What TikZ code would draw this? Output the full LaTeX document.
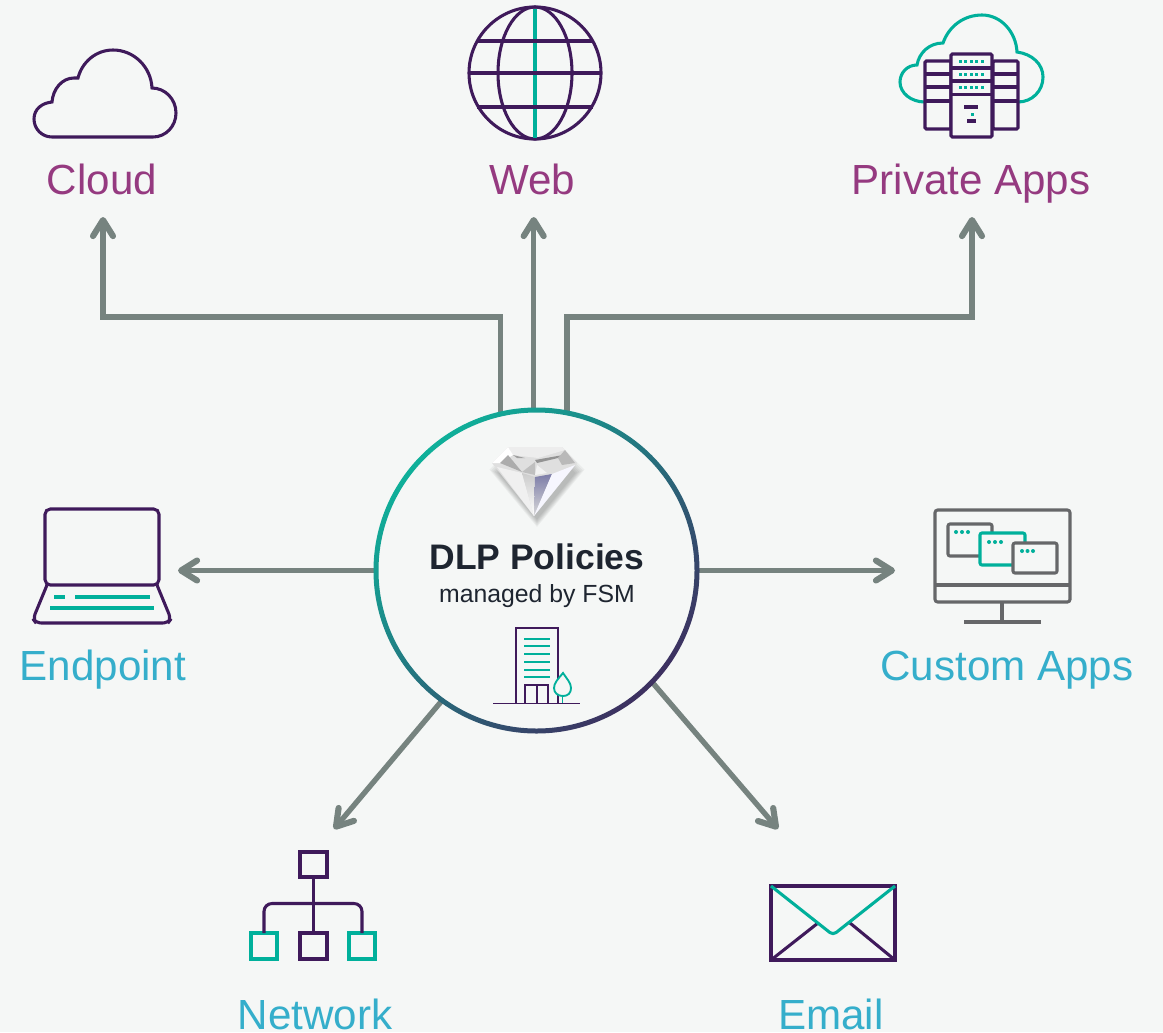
\documentclass[tikz,border=0pt]{standalone}
\usepackage{fontspec}
\setmainfont{Liberation Sans}
\usetikzlibrary{arrows.meta}
\definecolor{pagebg}{HTML}{F5F7F6}
\definecolor{iconpurple}{HTML}{3F1A5B}
\definecolor{iconteal}{HTML}{00B09B}
\definecolor{icongrey}{HTML}{666769}
\definecolor{flowgrey}{HTML}{76837F}
\definecolor{labelpurple}{HTML}{953A80}
\definecolor{labelblue}{HTML}{35AECB}
\definecolor{hubtext}{HTML}{1E2530}
\definecolor{ringstart}{HTML}{0FB09A}
\definecolor{ringmid}{HTML}{1B8F88}
\definecolor{ringend}{HTML}{3D3060}
\tikzset{
  flow/.style={draw=flowgrey, line width=4pt, -{Straight Barb[length=12pt,width=15pt,line width=4.6pt,round]}},
  purpleline/.style={draw=iconpurple, line width=2.3pt},
  tealline/.style={draw=iconteal, line width=2.3pt},
  greyline/.style={draw=icongrey, line width=2.3pt},
  thinpurple/.style={draw=iconpurple, line width=1.4pt},
  thinteal/.style={draw=iconteal, line width=1.4pt},
  toplabel/.style={anchor=base, text=labelpurple, font=\fontsize{31.6pt}{36pt}\selectfont, inner sep=0pt},
  lowlabel/.style={anchor=base, text=labelblue, font=\fontsize{31.6pt}{36pt}\selectfont, inner sep=0pt},
}
\begin{document}
\begin{tikzpicture}[x=0.75pt,y=-0.75pt]
  \fill[pagebg] (0,0) rectangle (1163,1032);
  \useasboundingbox (0,0) rectangle (1163,1032);

  \node[circle, inner sep=0pt, outer sep=0pt, minimum size=240.75pt] (hub) at (536.5,570.5) {};
  \coordinate (cloudbend) at (103,317);
  \coordinate (cloudtip) at (103,217);
  \coordinate (webtip) at (533,217);
  \coordinate (appsbend) at (972,317);
  \coordinate (appstip) at (972,217);
  \coordinate (endpointtip) at (178,570.5);
  \coordinate (customtip) at (895,570.5);
  \coordinate (networktip) at (334,829);
  \coordinate (emailtip) at (778,829);

  \draw[flow] (hub.103.5) |- (cloudbend) -- (cloudtip);
  \draw[flow] (hub.91.25) -- (hub.91.25 |- webtip);
  \draw[flow] (hub.79.7) |- (appsbend) -- (appstip);
  \draw[flow] (hub.180) -- (endpointtip);
  \draw[flow] (hub.0) -- (customtip);
  \draw[flow] (hub.234.2) -- (networktip);
  \draw[flow] (hub.-44) -- (emailtip);

  % ring
  \path[even odd rule, left color=ringstart, middle color=ringmid, right color=ringend, shading angle=45]
    (hub.center) circle (163) circle (158);

  \node[anchor=base, inner sep=0pt, text=hubtext, font=\fontsize{26.6pt}{30pt}\selectfont\bfseries] (hubtitle) at (537,569) {DLP Policies};
  \node[anchor=base, inner sep=0pt, text=hubtext, font=\fontsize{18.6pt}{22pt}\selectfont] (hubsub) at (537,602) {managed by FSM};

  \node[toplabel] (cloudlabel) at (102,194) {Cloud};
  \node[toplabel] (weblabel) at (532,194) {Web};
  \node[toplabel] (appslabel) at (971,194) {Private Apps};
  \node[lowlabel] (endpointlabel) at (103,680) {Endpoint};
  \node[lowlabel] (customlabel) at (1007,680) {Custom Apps};
  \node[lowlabel] (networklabel) at (315,1029) {Network};
  \node[lowlabel] (emaillabel) at (831,1029) {Email};

  % diamond
  \foreach \s in {0.88,0.92,0.96,1.00,1.04,1.08}
    \fill[black, opacity=0.045, shift={(537,488)}, scale=\s]
      (-28,-33) -- (28,-33) -- (44,-17) -- (0,36) -- (-44,-17) -- cycle;
  \fill[gray!25!white] (508,447) -- (562,447) -- (577,463) -- (534,516) -- (492,463) -- cycle;
  \fill[gray!14!white] (508,447) -- (562,447) -- (565,450) -- (538,458) -- (513,455) -- cycle;
  \fill[white] (492,463) -- (508,447) -- (513,455) -- (500,463) -- cycle;
  \fill[gray!65!white] (500,463) -- (508,455) -- (522,472) -- cycle;
  \fill[gray!75!white] (513,455) -- (525,458) -- (517,458) -- cycle;
  \fill[gray!85!white] (535,460) -- (563,455) -- (558,458) -- (537,463) -- cycle;
  \fill[gray!55!white] (558,458) -- (565,450) -- (575,463) -- (562,465) -- cycle;
  \fill[gray!50!white] (522,472) -- (535,462) -- (535,475) -- cycle;
  \fill[gray!10!white] (537,465) -- (547,473) -- (535,475) -- cycle;
  \fill[gray!12!white] (497,467) -- (522,473) -- (534,516) -- cycle;
  \path[top color=gray!40!white, bottom color=white] (522,473) -- (535,477) -- (534,516) -- cycle;
  \path[top color=gray!80!blue!85!white, bottom color=gray!30!white] (535,477) -- (552,474) -- (534,516) -- cycle;
  \fill[gray!20!blue!4!white] (552,474) -- (575,465) -- (534,516) -- cycle;

  % building
  \draw[thinpurple] (516,703) -- (516,628) -- (558,628) -- (558,703);
  \draw[thinpurple] (525,703) -- (525,685) -- (548,685) -- (548,703) (537,685) -- (537,703);
  \draw[thinpurple] (493,703.5) -- (580,703.5);
  \foreach \y in {639,646,654,662,670,677}
    \draw[thinteal] (524,\y) -- (550,\y);
  \draw[thinteal, fill=pagebg] (563,673) .. controls (558,679) and (554,683) .. (554,688) .. controls (554,693) and (558,696) .. (563,696) .. controls (568,696) and (571,693) .. (571,688) .. controls (571,683) and (567,679) .. (563,673) -- cycle;
  \draw[thinteal] (562.5,696) -- (562.5,703);

  % cloud
  \draw[purpleline] (52,137) -- (153,137) .. controls (166,137) and (176,126) .. (176,113) .. controls (176,99) and (165,88) .. (152,88) .. controls (151,67) and (134,50) .. (113,50) .. controls (96,50) and (82,62) .. (78,78) -- (74,78) .. controls (62,78) and (53,89) .. (52,102) .. controls (42,103) and (34,109) .. (34,119) .. controls (34,129) and (42,137) .. (52,137) -- cycle;

  % globe
  \draw[purpleline] (535,73) circle (66);
  \draw[purpleline] (535,73) ellipse (37 and 66);
  \draw[tealline] (535,9) -- (535,138);
  \draw[purpleline] (469,73) -- (601,73) (477,41) -- (593,41) (477,107) -- (593,107);

  % private apps
  \draw[tealline] (925,102) .. controls (911,102) and (900,93) .. (900,82) .. controls (900,73) and (907,65) .. (917,65) .. controls (919,53) and (929,43) .. (943,43) .. controls (949,26) and (964,15) .. (982,15) .. controls (1001,15) and (1016,32) .. (1017,52) .. controls (1032,54) and (1043,64) .. (1043,77) .. controls (1043,91) and (1032,102) .. (1018,102);
  \draw[purpleline, rounded corners=1pt] (925,61) rectangle (951,129);
  \draw[purpleline, rounded corners=1pt] (993,61) rectangle (1018,129);
  \foreach \y in {74,87,101} {
    \draw[purpleline] (925,\y) -- (951,\y);
    \draw[purpleline] (993,\y) -- (1018,\y);
  }
  \draw[purpleline, rounded corners=1pt, fill=pagebg] (951,54) rectangle (992,137);
  \foreach \y in {68,81,94.5}
    \draw[purpleline] (951,\y) -- (992,\y);
  \foreach \y in {61,74.5,87.5}
    \foreach \x in {960,965.5,971,976.5,982}
      \fill[iconteal] (\x-1.5,\y-1.5) rectangle (\x+1.5,\y+1.5);
  \draw[purpleline] (964,107) -- (978,107) (967,121) -- (976,121);
  \fill[iconteal] (970.5,112.5) rectangle (973.5,115.5);

  % laptop
  \draw[purpleline, rounded corners=4pt] (45,585) rectangle (159,509);
  \draw[purpleline, rounded corners=4pt] (47,585) -- (33,619) -- (36,623) -- (168,623) -- (171,619) -- (157,585);
  \draw[tealline] (54,597) -- (65,597) (75,597) -- (150,597) (50,608) -- (154,608);

  % monitor
  \draw[greyline, rounded corners=2pt] (935,510) rectangle (1070,602);
  \draw[greyline] (935,585) -- (1070,585) (1002,602) -- (1002,622) (964,622) -- (1041,622);
  \draw[greyline, rounded corners=1.5pt] (948,524) rectangle (992,556);
  \draw[tealline, rounded corners=1.5pt, fill=pagebg] (980,533) rectangle (1025,565);
  \draw[greyline, rounded corners=1.5pt, fill=pagebg] (1013,543) rectangle (1057,573);
  \foreach \x/\y in {956/532,962/532,968/532,989/542,995/542,1001/542,1022/551,1027.5/551,1033/551}
    \fill[iconteal] (\x,\y) circle (2);

  % network
  \draw[purpleline] (300,852) rectangle (327,877);
  \draw[purpleline] (300,933) rectangle (327,959);
  \draw[tealline] (251,933) rectangle (277,959);
  \draw[tealline] (349,933) rectangle (375,959);
  \draw[purpleline] (313.5,877) -- (313.5,933);
  \draw[purpleline, rounded corners=6pt] (264,933) -- (264,903.5) -- (362,903.5) -- (362,933);

  % email
  \draw[purpleline] (771,886) rectangle (895,960);
  \draw[purpleline] (771,960) -- (818,923) (850,923) -- (895,960);
  \draw[tealline, rounded corners=3pt] (771,886) -- (833,935) -- (895,886);
\end{tikzpicture}
\end{document}
